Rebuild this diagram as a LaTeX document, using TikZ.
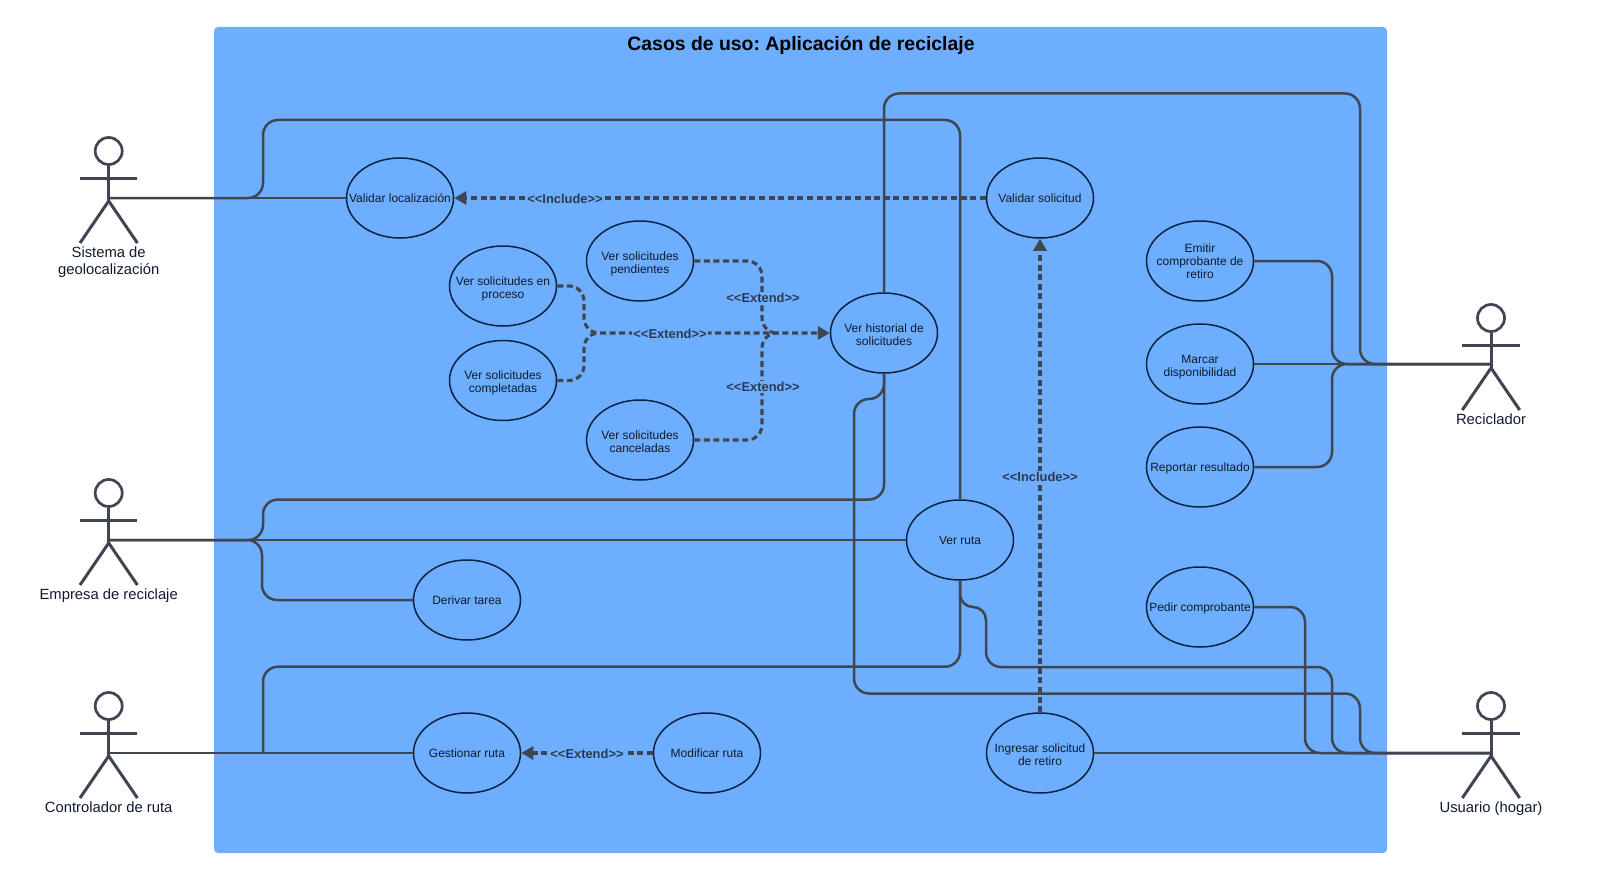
\documentclass[tikz,border=0pt]{standalone}
\usepackage{fontspec}
\setmainfont{Liberation Sans}
\usetikzlibrary{shapes.geometric,arrows.meta}
\definecolor{sysblue}{HTML}{6EAEFF}
\definecolor{linecol}{HTML}{3F4652}
\definecolor{ringcol}{HTML}{0A2342}
\definecolor{labcol}{HTML}{2B3A50}
\definecolor{inkcol}{HTML}{0F1B2D}
\newcommand{\uctext}[2][4.5pt]{\makebox[0pt][c]{\raisebox{-#1}[0pt][0pt]{\begin{tabular}{@{}c@{}}#2\end{tabular}}}}
\frenchspacing
\tikzset{
  usecase/.style={ellipse,draw=ringcol,line width=1.5pt,minimum width=107pt,minimum height=80pt,inner sep=0pt,text=inkcol,font=\fontsize{12pt}{13.3pt}\selectfont},
  conn/.style={draw=linecol,line width=2.5pt,rounded corners=15pt},
  depline/.style={draw=linecol,line width=3.1pt,dash pattern=on 6pt off 3.6pt,rounded corners=15pt},
  depend/.style={depline,-{Triangle[length=12pt,width=13pt]}},
  deplabel/.style={fill=sysblue,inner sep=1pt,text=labcol,font=\bfseries\fontsize{12.9pt}{15pt}\selectfont},
  actorline/.style={draw=linecol,line width=3pt},
  actorname/.style={align=center,text=inkcol,font=\fontsize{14.8pt}{17.4pt}\selectfont,anchor=north},
  actorhead/.style={ellipse,draw=linecol,line width=2.7pt,minimum width=27pt,minimum height=27pt,inner sep=0pt}
}
% name, cx, head-top y, connector y, label text
\newcommand{\stickman}[5]{%
  \node[actorhead] (#1-head) at (#2,#3+14) {};
  \coordinate (#1) at (#2,#4);
  \coordinate (#1-hip) at (#2,#3+64);
  \draw[actorline] (#1-head.south) -- (#1-hip);
  \draw[actorline] (#2-28.7,#3+41) -- (#2+28.7,#3+41);
  \draw[actorline] (#1-hip) -- (#2-28.7,#3+106);
  \draw[actorline] (#1-hip) -- (#2+28.7,#3+106);
  \node[actorname] (#1-name) at (#2,#3+106) {#5};
}
\begin{document}
\begin{tikzpicture}[x=1pt,y=-1pt]
\useasboundingbox (0,0) rectangle (1600,880);
\fill[sysblue,rounded corners=4pt] (214,27) rectangle (1387,853);
\node[font=\bfseries\fontsize{19.4pt}{22pt}\selectfont,text=black] (title) at (801,45.5) {Casos de uso: Aplicación de reciclaje};

% use cases
\node[usecase] (vloc) at (400,198) {\uctext{Validar localización}};
\node[usecase] (vsol) at (1040,198) {\uctext{Validar solicitud}};
\node[usecase] (pend) at (640,261) {\uctext[6pt]{Ver solicitudes\\pendientes}};
\node[usecase] (proc) at (503,286) {\uctext[6pt]{Ver solicitudes en\\proceso}};
\node[usecase] (comp) at (503,380.5) {\uctext[6pt]{Ver solicitudes\\completadas}};
\node[usecase] (canc) at (640,440) {\uctext[6pt]{Ver solicitudes\\canceladas}};
\node[usecase] (hist) at (884,333) {\uctext[6pt]{Ver historial de\\solicitudes}};
\node[usecase] (emit) at (1200,261) {\uctext[5pt]{Emitir\\comprobante de\\retiro}};
\node[usecase] (marc) at (1200,364) {\uctext[6pt]{Marcar\\disponibilidad}};
\node[usecase] (repo) at (1200,467) {\uctext{Reportar resultado}};
\node[usecase] (ruta) at (960,540) {\uctext{Ver ruta}};
\node[usecase] (deri) at (467,600) {\uctext{Derivar tarea}};
\node[usecase] (pedi) at (1200,607) {\uctext{Pedir comprobante}};
\node[usecase] (gest) at (467,753) {\uctext{Gestionar ruta}};
\node[usecase] (modi) at (707,753) {\uctext{Modificar ruta}};
\node[usecase] (ingr) at (1040,753) {\uctext[6pt]{Ingresar solicitud\\de retiro}};

% actors
\stickman{sist}{108.7}{137}{198}{Sistema de\\geolocalización}
\stickman{empr}{108.7}{479}{540}{Empresa de reciclaje}
\stickman{cont}{108.7}{692}{753}{Controlador de ruta}
\stickman{reci}{1491}{304}{364}{Reciclador}
\stickman{usua}{1491}{692}{753}{Usuario (hogar)}

% associations
\draw[conn] (sist) -- (vloc.west);
\draw[conn] (sist) -| (263,120) -| (ruta.north);
\draw[conn] (empr) -- (ruta.west);
\draw[conn] (empr) -| (263,499.5) -| (hist.south);
\draw[conn] (empr) -| (262,600) -- (deri.west);
\draw[conn] (cont) -- (gest.west);
\draw[conn] (263,753) -- (263,666.7) -| (ruta.south);
\draw[conn] (hist.north) |- (1360,93.5) |- (reci);
\draw[conn] (emit.east) -| (1332,364) -- (reci);
\draw[conn] (marc.east) -- (reci);
\draw[conn] (repo.east) -| (1332,364) -- (reci);
\draw[conn] (hist.south) |- (854,399) |- (1360,693.5) |- (usua);
\draw[conn,rounded corners=13pt] (ruta.south) |- (986,607) [rounded corners=15pt] |- (1332,667) |- (usua);
\draw[conn] (pedi.east) -| (1305,753) -- (usua);
\draw[conn] (ingr.east) -- (usua);

% dependencies
\coordinate (jleft) at (599,333);
\coordinate (jright) at (777,333);
\draw[depend] (vsol.west) -- (vloc.east);
\draw[depend] (ingr.north) -- (vsol.south);
\draw[depend] (modi.west) -- (gest.east);
\draw[depend] (proc.east) -| (584,333) -- (hist.west);
\draw[depline] (comp.east) -| (584,333) -- (jleft);
\draw[depline] (pend.east) -| (762,333) -- (jright);
\draw[depline] (canc.east) -| (762,333) -- (jright);

\node[deplabel] (l1) at (565,198.5) {<{}<Include>{}>};
\node[deplabel] (l2) at (1040,476.5) {<{}<Include>{}>};
\node[deplabel] (l3) at (670,333.5) {<{}<Extend>{}>};
\node[deplabel] (l4) at (763,297.5) {<{}<Extend>{}>};
\node[deplabel] (l5) at (763,387) {<{}<Extend>{}>};
\node[deplabel] (l6) at (587,753.5) {<{}<Extend>{}>};
\end{tikzpicture}
\end{document}
